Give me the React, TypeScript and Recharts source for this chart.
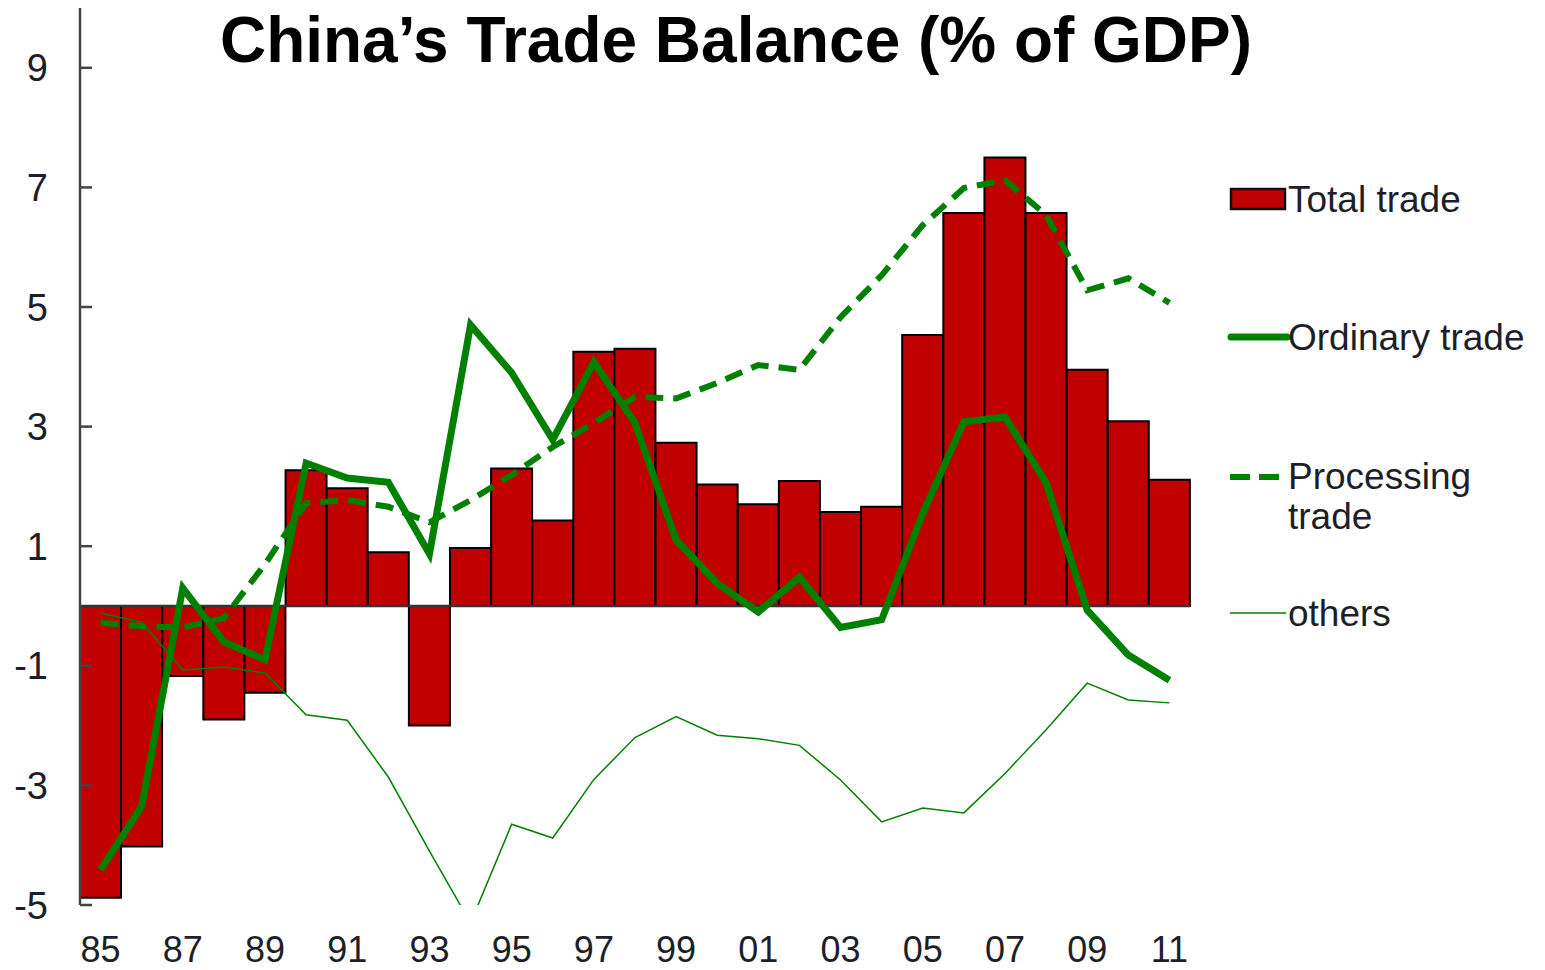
import { ComposedChart, Bar, Line, XAxis, YAxis, ReferenceLine } from 'recharts'

// years 1985-2011, shown as two-digit labels
const years = [
  '85', '86', '87', '88', '89', '90', '91', '92', '93', '94', '95', '96', '97', '98',
  '99', '00', '01', '02', '03', '04', '05', '06', '07', '08', '09', '10', '11',
]

const totalTrade = [
  -4.88, -4.02, -1.17, -1.9, -1.45, 2.27, 1.97, 0.9, -2.0, 0.97, 2.3, 1.43, 4.25, 4.3,
  2.73, 2.03, 1.7, 2.09, 1.57, 1.66, 4.53, 6.57, 7.5, 6.57, 3.95, 3.09, 2.11,
]

const ordinaryTrade = [
  -4.41, -3.35, 0.3, -0.6, -0.9, 2.39, 2.14, 2.07, 0.87, 4.7, 3.9, 2.78, 4.08, 3.06,
  1.1, 0.38, -0.1, 0.48, -0.36, -0.23, 1.55, 3.08, 3.16, 2.06, -0.07, -0.82, -1.24,
]

const processingTrade = [
  -0.28, -0.34, -0.36, -0.2, 0.7, 1.72, 1.77, 1.66, 1.4, 1.77, 2.19, 2.66, 3.06, 3.5,
  3.47, 3.73, 4.03, 3.95, 4.83, 5.53, 6.37, 6.99, 7.12, 6.54, 5.28, 5.48, 5.07,
]

const others = [
  -0.12, -0.27, -1.07, -1.02, -1.12, -1.82, -1.91, -2.86, -4.1, -5.3, -3.65, -3.88, -2.9, -2.2,
  -1.85, -2.16, -2.22, -2.33, -2.91, -3.61, -3.38, -3.46, -2.8, -2.07, -1.29, -1.57, -1.62,
]

const yTicks = [-5, -3, -1, 1, 3, 5, 7, 9]

const data = years.map((year, i) => ({
  year,
  total: totalTrade[i],
  ordinary: ordinaryTrade[i],
  processing: processingTrade[i],
  others: others[i],
}))

const FONT = '"Liberation Sans", Arial, sans-serif'
const GREEN = '#008000'
const RED = '#c00000'
const TEXT = '#1e1e28'
const AXIS = '#444'

function YTick(props: any) {
  const { x, y, payload } = props
  const axisX = x + 32
  return (
    <g>
      <line x1={axisX} x2={axisX + 12} y1={y} y2={y} stroke={AXIS} strokeWidth={2.5} />
      <text x={x} y={y} dy="0.36em" textAnchor="end" fontSize={38} fill={TEXT} fontFamily={FONT}>
        {payload.value}
      </text>
    </g>
  )
}

export default function App() {
  return (
    <div style={{ position: 'absolute', left: 0, top: 0, width: 1545, height: 970, background: '#fff' }}>
      <ComposedChart
        width={1545}
        height={970}
        data={data}
        margin={{ top: 8, right: 355, bottom: 0, left: 0 }}
        barCategoryGap={0}
        barGap={0}
      >
        <XAxis
          dataKey="year"
          interval={1}
          height={65}
          axisLine={false}
          tickLine={false}
          tickSize={0}
          tickMargin={31}
          tick={{ fontSize: 36, fill: TEXT, fontFamily: FONT }}
        />
        <YAxis
          width={80}
          domain={[-5, 10]}
          ticks={yTicks}
          allowDataOverflow
          tickLine={false}
          tickSize={0}
          tickMargin={32}
          axisLine={{ stroke: AXIS, strokeWidth: 2.5 }}
          tick={<YTick />}
        />
        <Bar dataKey="total" fill={RED} stroke="#000" strokeWidth={2} isAnimationActive={false} />
        <ReferenceLine y={0} stroke="#333" strokeWidth={2.5} />
        <Line
          dataKey="others"
          stroke={GREEN}
          strokeWidth={1.5}
          dot={false}
          activeDot={false}
          isAnimationActive={false}
        />
        <Line
          dataKey="processing"
          stroke={GREEN}
          strokeWidth={6}
          strokeDasharray="18 10"
          dot={false}
          activeDot={false}
          isAnimationActive={false}
        />
        <Line
          dataKey="ordinary"
          stroke={GREEN}
          strokeWidth={7}
          dot={false}
          activeDot={false}
          isAnimationActive={false}
        />
      </ComposedChart>

      <svg
        width={1545}
        height={970}
        style={{ position: 'absolute', left: 0, top: 0, pointerEvents: 'none' }}
        fontFamily={FONT}
      >
        <text
          x={220}
          y={62}
          fontSize={64}
          fontWeight="bold"
          fill="#000"
          textLength={1032}
          lengthAdjust="spacingAndGlyphs"
        >
          China’s Trade Balance (% of GDP)
        </text>

        <rect x={1231} y={189} width={54} height={20} fill={RED} stroke="#111" strokeWidth={2.5} />
        <text x={1288} y={212} fontSize={37} fill={TEXT}>Total trade</text>

        <line x1={1231} x2={1287} y1={337} y2={337} stroke={GREEN} strokeWidth={7} strokeLinecap="round" />
        <text x={1288} y={350} fontSize={37} fill={TEXT}>Ordinary trade</text>

        <line x1={1230} x2={1284} y1={477} y2={477} stroke={GREEN} strokeWidth={6} strokeDasharray="20 9" />
        <text x={1288} y={489} fontSize={37} fill={TEXT}>Processing</text>
        <text x={1288} y={529} fontSize={37} fill={TEXT}>trade</text>

        <line x1={1230} x2={1286} y1={613} y2={613} stroke={GREEN} strokeWidth={1.5} />
        <text x={1288} y={626} fontSize={37} fill={TEXT}>others</text>
      </svg>
    </div>
  )
}
